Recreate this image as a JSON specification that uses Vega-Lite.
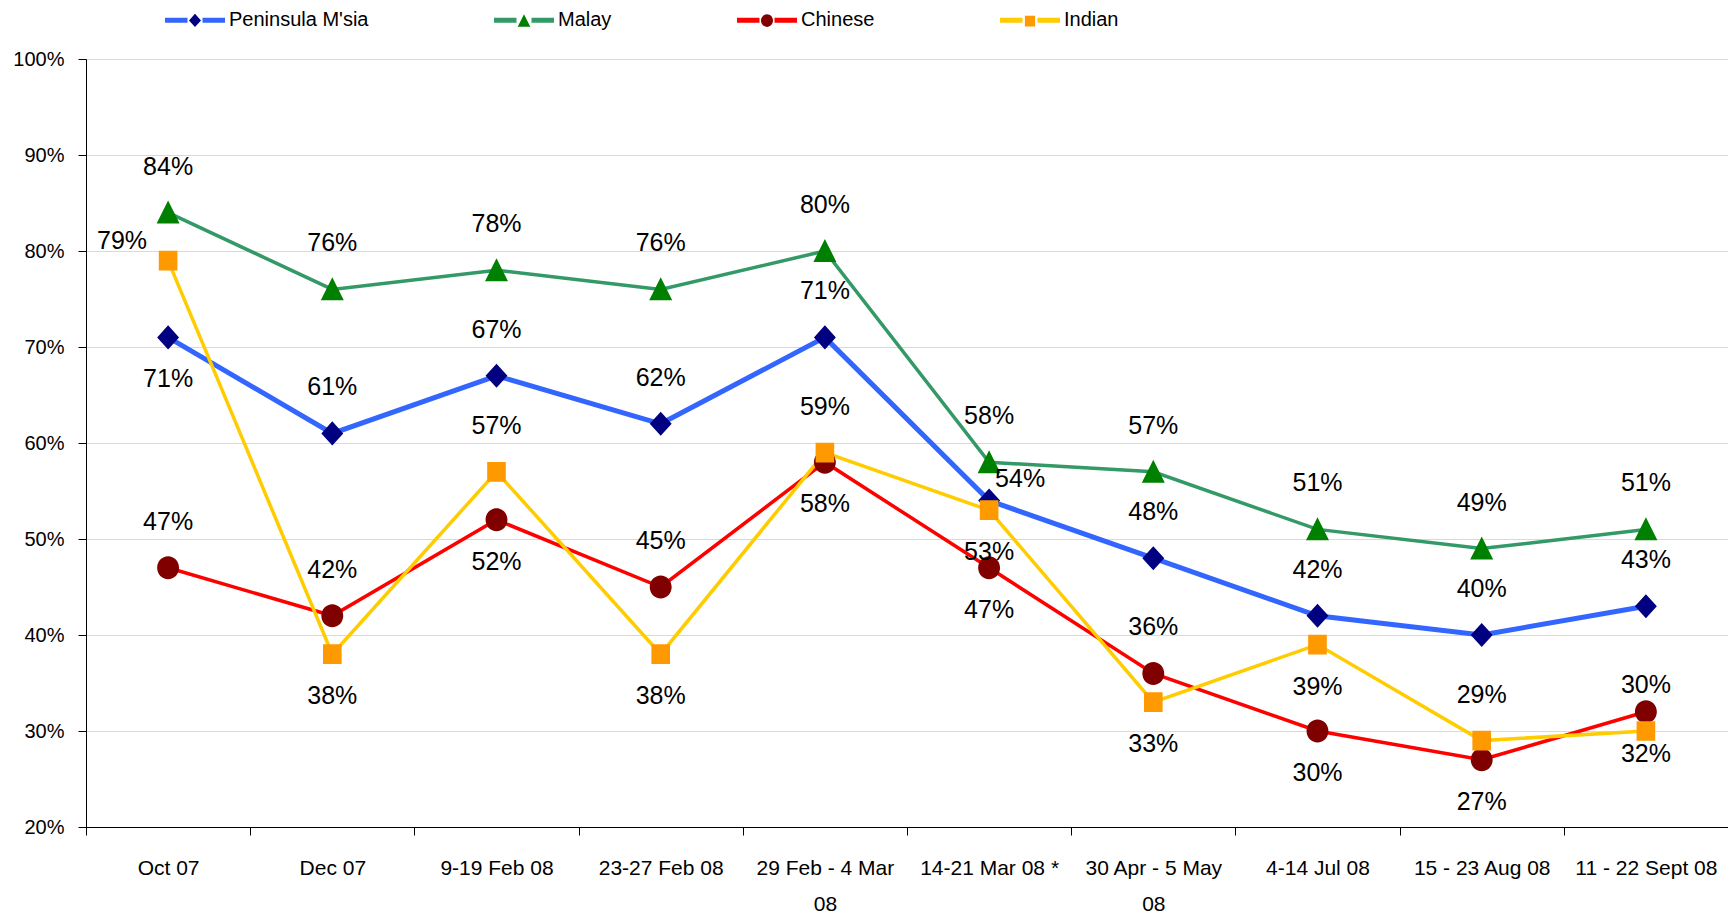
{
  "$schema": "https://vega.github.io/schema/vega-lite/v6.json",
  "width": 1642,
  "height": 768,
  "autosize": {"type": "none"},
  "padding": {"left": 86, "top": 59, "right": 0, "bottom": 91},
  "background": "white",
  "config": {"view": {"stroke": null}},
  "data": {
    "values": [
      {"series": "Peninsula M'sia", "period": "Oct 07", "value": 0.71},
      {"series": "Peninsula M'sia", "period": "Dec 07", "value": 0.61},
      {"series": "Peninsula M'sia", "period": "9-19 Feb 08", "value": 0.67},
      {"series": "Peninsula M'sia", "period": "23-27 Feb 08", "value": 0.62},
      {"series": "Peninsula M'sia", "period": "29 Feb - 4 Mar 08", "value": 0.71},
      {"series": "Peninsula M'sia", "period": "14-21 Mar 08 *", "value": 0.54},
      {"series": "Peninsula M'sia", "period": "30 Apr - 5 May 08", "value": 0.48},
      {"series": "Peninsula M'sia", "period": "4-14 Jul 08", "value": 0.42},
      {"series": "Peninsula M'sia", "period": "15 - 23 Aug 08", "value": 0.40},
      {"series": "Peninsula M'sia", "period": "11 - 22 Sept 08", "value": 0.43},
      {"series": "Malay", "period": "Oct 07", "value": 0.84},
      {"series": "Malay", "period": "Dec 07", "value": 0.76},
      {"series": "Malay", "period": "9-19 Feb 08", "value": 0.78},
      {"series": "Malay", "period": "23-27 Feb 08", "value": 0.76},
      {"series": "Malay", "period": "29 Feb - 4 Mar 08", "value": 0.80},
      {"series": "Malay", "period": "14-21 Mar 08 *", "value": 0.58},
      {"series": "Malay", "period": "30 Apr - 5 May 08", "value": 0.57},
      {"series": "Malay", "period": "4-14 Jul 08", "value": 0.51},
      {"series": "Malay", "period": "15 - 23 Aug 08", "value": 0.49},
      {"series": "Malay", "period": "11 - 22 Sept 08", "value": 0.51},
      {"series": "Chinese", "period": "Oct 07", "value": 0.47},
      {"series": "Chinese", "period": "Dec 07", "value": 0.42},
      {"series": "Chinese", "period": "9-19 Feb 08", "value": 0.52},
      {"series": "Chinese", "period": "23-27 Feb 08", "value": 0.45},
      {"series": "Chinese", "period": "29 Feb - 4 Mar 08", "value": 0.58},
      {"series": "Chinese", "period": "14-21 Mar 08 *", "value": 0.47},
      {"series": "Chinese", "period": "30 Apr - 5 May 08", "value": 0.36},
      {"series": "Chinese", "period": "4-14 Jul 08", "value": 0.30},
      {"series": "Chinese", "period": "15 - 23 Aug 08", "value": 0.27},
      {"series": "Chinese", "period": "11 - 22 Sept 08", "value": 0.32},
      {"series": "Indian", "period": "Oct 07", "value": 0.79},
      {"series": "Indian", "period": "Dec 07", "value": 0.38},
      {"series": "Indian", "period": "9-19 Feb 08", "value": 0.57},
      {"series": "Indian", "period": "23-27 Feb 08", "value": 0.38},
      {"series": "Indian", "period": "29 Feb - 4 Mar 08", "value": 0.59},
      {"series": "Indian", "period": "14-21 Mar 08 *", "value": 0.53},
      {"series": "Indian", "period": "30 Apr - 5 May 08", "value": 0.33},
      {"series": "Indian", "period": "4-14 Jul 08", "value": 0.39},
      {"series": "Indian", "period": "15 - 23 Aug 08", "value": 0.29},
      {"series": "Indian", "period": "11 - 22 Sept 08", "value": 0.30}
    ]
  },
  "encoding": {
    "x": {
      "field": "period",
      "type": "nominal",
      "sort": ["Oct 07", "Dec 07", "9-19 Feb 08", "23-27 Feb 08", "29 Feb - 4 Mar 08", "14-21 Mar 08 *", "30 Apr - 5 May 08", "4-14 Jul 08", "15 - 23 Aug 08", "11 - 22 Sept 08"],
      "scale": {"paddingInner": 0, "paddingOuter": 0},
      "axis": {
        "title": null,
        "grid": false,
        "tickBand": "extent",
        "domainColor": "#000000",
        "domainWidth": 1,
        "tickColor": "#000000",
        "tickSize": 8,
        "labelFont": "Liberation Sans",
        "labelFontSize": 21,
        "labelColor": "#000000",
        "labelAngle": 0,
        "labelPadding": 22,
        "labelLineHeight": 36,
        "labelBaseline": "top",
        "labelOverlap": false,
        "labelBound": false,
        "labelLimit": 0,
        "labelExpr": "datum.label === '29 Feb - 4 Mar 08' ? ['29 Feb - 4 Mar', '08'] : datum.label === '30 Apr - 5 May 08' ? ['30 Apr - 5 May', '08'] : datum.label"
      }
    },
    "y": {
      "field": "value",
      "type": "quantitative",
      "scale": {"domain": [0.2, 1.0], "nice": false, "zero": false},
      "axis": {
        "title": null,
        "format": ".0%",
        "values": [0.2, 0.3, 0.4, 0.5, 0.6, 0.7, 0.8, 0.9, 1.0],
        "grid": true,
        "gridColor": "#D9D9D9",
        "gridWidth": 1,
        "domainColor": "#000000",
        "domainWidth": 1,
        "tickColor": "#000000",
        "tickSize": 8,
        "labelFont": "Liberation Sans",
        "labelFontSize": 20,
        "labelColor": "#000000",
        "labelPadding": 14
      }
    }
  },
  "layer": [
    {
      "mark": {"type": "line"},
      "encoding": {
        "color": {
          "field": "series",
          "type": "nominal",
          "sort": ["Peninsula M'sia", "Malay", "Chinese", "Indian"],
          "scale": {"range": ["#3366FF", "#339966", "#FF0000", "#FFCC00"]},
          "legend": {
            "orient": "none", "legendX": 76.5, "legendY": -71.5, "direction": "horizontal", "title": null, "padding": 0,
            "symbolType": "M-1,0L-0.25,0M0.25,0L1,0", "symbolSize": 3600, "symbolStrokeWidth": 5,
            "labelFont": "Liberation Sans", "labelFontSize": 20, "labelColor": "#000000", "labelOffset": 1.5, "labelLimit": 400,
            "columnPadding": 115
          }
        },
        "strokeWidth": {"condition": {"test": "datum.series === \"Peninsula M'sia\"", "value": 5}, "value": 3.5}
      }
    },
    {
      "mark": {"type": "point", "filled": true, "opacity": 1, "size": 12000},
      "encoding": {
        "fill": {
          "field": "series",
          "type": "nominal",
          "scale": {"domain": ["Peninsula M'sia", "Malay", "Chinese", "Indian"], "range": ["#000080", "#008000", "#800000", "#FF9900"]},
          "legend": {
            "orient": "none", "legendX": 76.5, "legendY": -71.5, "direction": "horizontal", "title": null, "padding": 0,
            "symbolSize": 3600, "symbolStrokeWidth": 5, "symbolStrokeColor": "transparent", "symbolOpacity": 1,
            "labelFont": "Liberation Sans", "labelFontSize": 20, "labelColor": "#000000", "labelOpacity": 0, "labelOffset": 1.5, "labelLimit": 400,
            "columnPadding": 115
          }
        },
        "shape": {
          "field": "series",
          "type": "nominal",
          "scale": {"domain": ["Peninsula M'sia", "Malay", "Chinese", "Indian"], "range": [
            "M-1,0L1,0M-0.2,0L0,-0.22L0.2,0L0,0.22Z",
            "M-1,0L1,0M0,-0.22L0.21,0.2L-0.21,0.2Z",
            "M-1,0L1,0M-0.2,0A0.2,0.21,0,1,1,0.2,0A0.2,0.21,0,1,1,-0.2,0Z",
            "M-1,0L1,0M-0.17,-0.18L0.17,-0.18L0.17,0.18L-0.17,0.18Z"
          ]},
          "legend": {
            "orient": "none", "legendX": 76.5, "legendY": -71.5, "direction": "horizontal", "title": null, "padding": 0,
            "symbolSize": 3600, "symbolStrokeWidth": 5, "symbolStrokeColor": "transparent", "symbolOpacity": 1,
            "labelFont": "Liberation Sans", "labelFontSize": 20, "labelColor": "#000000", "labelOpacity": 0, "labelOffset": 1.5, "labelLimit": 400,
            "columnPadding": 115
          }
        }
      }
    },
    {
      "transform": [{"filter": "indexof([\"Peninsula M'sia|Oct 07\", \"Indian|Dec 07\", \"Indian|23-27 Feb 08\", \"Indian|14-21 Mar 08 *\", \"Indian|30 Apr - 5 May 08\", \"Indian|4-14 Jul 08\", \"Chinese|9-19 Feb 08\", \"Chinese|29 Feb - 4 Mar 08\", \"Chinese|14-21 Mar 08 *\", \"Chinese|4-14 Jul 08\", \"Chinese|15 - 23 Aug 08\", \"Chinese|11 - 22 Sept 08\", \"Peninsula M'sia|14-21 Mar 08 *\", \"Indian|Oct 07\"], datum.series + '|' + datum.period) < 0"}],
      "mark": {"type": "text", "dy": -46, "baseline": "middle", "align": "center", "font": "Liberation Sans", "fontSize": 25, "fill": "#000000"},
      "encoding": {"text": {"field": "value", "type": "quantitative", "format": ".0%"}}
    },
    {
      "transform": [{"filter": "indexof([\"Peninsula M'sia|Oct 07\", \"Indian|Dec 07\", \"Indian|23-27 Feb 08\", \"Indian|14-21 Mar 08 *\", \"Indian|30 Apr - 5 May 08\", \"Indian|4-14 Jul 08\", \"Chinese|9-19 Feb 08\", \"Chinese|29 Feb - 4 Mar 08\", \"Chinese|14-21 Mar 08 *\", \"Chinese|4-14 Jul 08\", \"Chinese|15 - 23 Aug 08\", \"Chinese|11 - 22 Sept 08\"], datum.series + '|' + datum.period) >= 0"}],
      "mark": {"type": "text", "dy": 42, "baseline": "middle", "align": "center", "font": "Liberation Sans", "fontSize": 25, "fill": "#000000"},
      "encoding": {"text": {"field": "value", "type": "quantitative", "format": ".0%"}}
    },
    {
      "transform": [{"filter": "datum.series + '|' + datum.period === \"Peninsula M'sia|14-21 Mar 08 *\""}],
      "mark": {"type": "text", "dx": 6, "dy": -22, "baseline": "middle", "align": "left", "font": "Liberation Sans", "fontSize": 25, "fill": "#000000"},
      "encoding": {"text": {"field": "value", "type": "quantitative", "format": ".0%"}}
    },
    {
      "transform": [{"filter": "datum.series + '|' + datum.period === 'Indian|Oct 07'"}],
      "mark": {"type": "text", "dx": -21, "dy": -20, "baseline": "middle", "align": "right", "font": "Liberation Sans", "fontSize": 25, "fill": "#000000"},
      "encoding": {"text": {"field": "value", "type": "quantitative", "format": ".0%"}}
    }
  ]
}
